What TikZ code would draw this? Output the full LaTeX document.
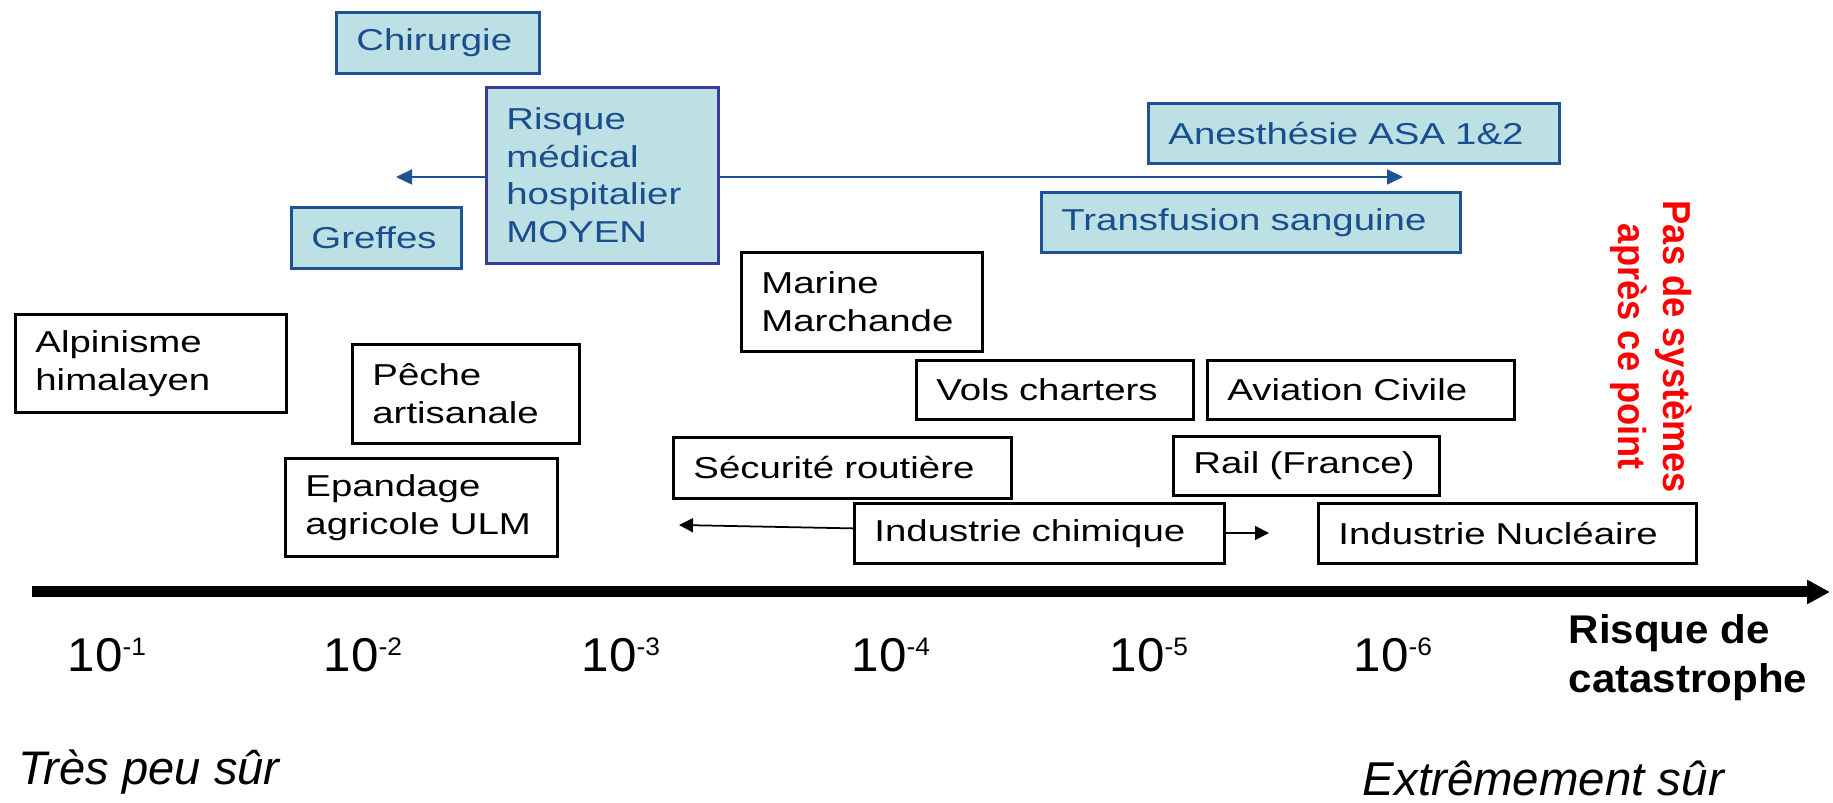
\documentclass[tikz,border=0pt]{standalone}
\usepackage{fontspec}
\setmainfont{Liberation Sans}
\newfontfamily\boxfont{Liberation Sans}[FakeStretch=1.27]
\newfontfamily\capfont{Liberation Sans}[FakeStretch=1.05]
\newfontfamily\redfont{Liberation Sans}[FakeStretch=0.93]
\newfontfamily\tickfont{Liberation Sans}[FakeStretch=1.04]
\usetikzlibrary{arrows.meta}
\definecolor{skyfill}{RGB}{188,224,228}
\definecolor{navyline}{RGB}{30,82,146}
\definecolor{navytext}{RGB}{27,78,142}
\definecolor{violetline}{RGB}{62,58,152}
\newcommand{\expo}[1]{\raisebox{4.8pt}{\fontsize{7.2}{7.2}\selectfont #1}}

\begin{document}
\begin{tikzpicture}[x=0.1mm, y=-0.1mm, every node/.style={inner sep=0pt},
	blk/.style={draw=black, line width=0.8pt, fill=white, anchor=north west, align=left, inner xsep=2mm, inner ysep=0pt, font=\boxfont\fontsize{8.6}{10.7}\selectfont},
	med/.style={blk, draw=navyline, fill=skyfill, text=navytext},
	barr/.style={navyline, line width=0.5pt, -{Triangle[length=1.6mm, width=1.5mm]}},
	karr/.style={black, line width=0.5pt, -{Triangle[length=1.4mm, width=1.4mm]}},
	tick/.style={anchor=base west, font=\tickfont\fontsize{13.5}{13.5}\selectfont}]
	\useasboundingbox (0,0) rectangle (1833,803);
	\node[med, text width=16.3mm, minimum height=6.1mm] (chir) at (335,11) {Chirurgie};
	\node[med, draw=violetline, text width=19.2mm, minimum height=17.6mm] (risq) at (485,86) {Risque\\médical\\hospitalier\\MOYEN};
	\node[med, text width=13.0mm, minimum height=6.1mm] (greff) at (290,206) {Greffes};
	\node[med, text width=37.1mm, minimum height=6.0mm] (anest) at (1147,102) {Anesthésie ASA 1\&2};
	\node[med, text width=37.9mm, minimum height=6.0mm] (transf) at (1040,191) {Transfusion sanguine};
	\node[blk, text width=20.1mm, minimum height=9.9mm] (marine) at (740,251) {Marine\\Marchande};
	\node[blk, text width=23.1mm, minimum height=9.8mm] (alpin) at (14,313) {Alpinisme\\himalayen};
	\node[blk, text width=18.7mm, minimum height=9.9mm] (peche) at (351,343) {Pêche\\artisanale};
	\node[blk, text width=23.7mm, minimum height=5.9mm] (vols) at (915,359) {Vols charters};
	\node[blk, text width=26.7mm, minimum height=5.9mm] (aviat) at (1206,359) {Aviation Civile};
	\node[blk, text width=23.2mm, minimum height=9.8mm] (epand) at (284,457) {Epandage\\agricole ULM};
	\node[blk, text width=29.8mm, minimum height=6.1mm] (secu) at (672,436) {Sécurité routière};
	\node[blk, text width=22.6mm, minimum height=5.9mm] (rail) at (1172,435) {Rail (France)};
	\node[blk, text width=33.0mm, minimum height=6.0mm] (chim) at (853,502) {Industrie chimique};
	\node[blk, text width=33.8mm, minimum height=6.0mm] (nucl) at (1317,502) {Industrie Nucléaire};
	\coordinate (gL) at (396,177);
	\coordinate (gR) at (1403,177);
	\draw[barr] (risq.west |- gL) -- (gL);
	\draw[barr] (risq.east |- gR) -- (gR);
	\coordinate (cL) at (679,525);
	\coordinate (cR) at (1269,533);
	\draw[karr] ([yshift=0.5mm]chim.west) -- (cL);
	\draw[karr] (chim.east |- cR) -- (cR);
	\coordinate (ax0) at (32,592);
	\coordinate (ax1) at (1830,592);
	\draw[line width=1.1mm, -{Triangle[length=2.3mm, width=2.3mm]}] (ax0) -- (ax1);
	\node[tick] (t1) at (67,672) {10\expo{-1}};
	\node[tick] (t2) at (323,672) {10\expo{-2}};
	\node[tick] (t3) at (581,672) {10\expo{-3}};
	\node[tick] (t4) at (851,672) {10\expo{-4}};
	\node[tick] (t5) at (1109,672) {10\expo{-5}};
	\node[tick] (t6) at (1353,672) {10\expo{-6}};
	\node[anchor=base west, align=left, font=\capfont\bfseries\fontsize{11.4}{14}\selectfont] (axlab) at (1568,693) {Risque de\\catastrophe};
	\node[red, rotate=-90, align=center, font=\redfont\bfseries\fontsize{11.1}{12.8}\selectfont] (nosys) at (1651,347) {Pas de systèmes\\après ce point};
	\node[anchor=base west, font=\itshape\fontsize{13.4}{13.4}\selectfont] (unsafe) at (18,785) {Très peu sûr};
	\node[anchor=base west, font=\itshape\fontsize{13.5}{13.5}\selectfont] (safe) at (1362,796) {Extrêmement sûr};
\end{tikzpicture}
\end{document}
